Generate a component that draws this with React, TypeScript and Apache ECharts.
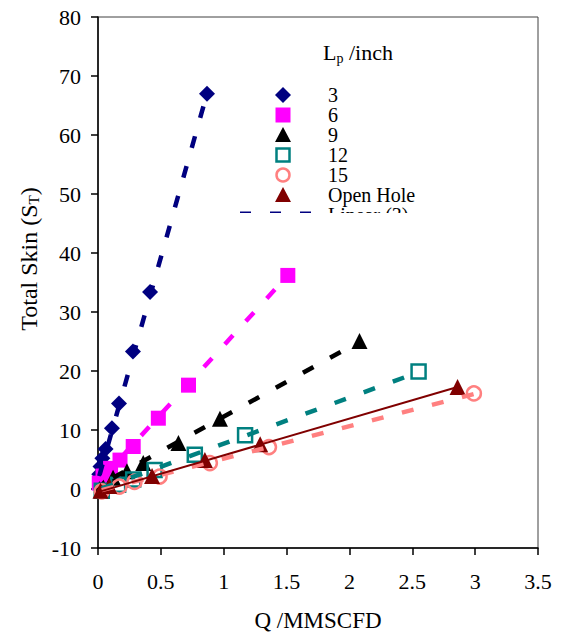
import React, { useEffect, useRef } from "react";
import * as echarts from "echarts";

// ---- data ----
const q3 = [0.01, 0.02, 0.035, 0.06, 0.111, 0.167, 0.278, 0.414, 0.867];
const s3 = [2.5, 3.8, 5.2, 6.8, 10.3, 14.5, 23.3, 33.4, 67.0];

const q6 = [0.01, 0.04, 0.1, 0.175, 0.28, 0.48, 0.72, 1.51];
const s6 = [1.0, 2.2, 3.5, 4.9, 7.2, 12.0, 17.6, 36.2];

const q9 = [0.03, 0.12, 0.23, 0.36, 0.64, 0.97, 2.08];
const s9 = [0.8, 1.9, 3.0, 4.4, 7.8, 11.9, 25.1];

const q12 = [0.03, 0.16, 0.28, 0.45, 0.77, 1.17, 2.55];
const s12 = [-0.3, 0.7, 1.6, 3.2, 5.8, 9.1, 19.9];

const q15 = [0.03, 0.17, 0.29, 0.49, 0.89, 1.36, 2.99];
const s15 = [-0.4, 0.4, 1.2, 2.1, 4.4, 7.1, 16.2];

const qOH = [0.02, 0.09, 0.43, 0.85, 1.29, 2.86];
const sOH = [-0.3, 0.5, 2.2, 4.9, 7.6, 17.3];

// trend line end points
const trend3 = [[0.01, 2.2], [0.867, 67.0]];
const trend6 = [[0.01, 1.3], [1.51, 36.2]];
const trend9 = [[0.12, 1.9], [2.08, 25.0]];
const trend12 = [[0.03, 0.1], [2.55, 19.8]];
const trend15 = [[0.03, -0.2], [2.99, 16.1]];
const trendOH = [[0.02, -0.4], [2.86, 17.3]];

const legendLabels = ["3", "6", "9", "12", "15", "Open Hole", "Linear (3)"];

const FONT = '"Liberation Serif", "Times New Roman", serif';

const zip = (xs: number[], ys: number[]) => xs.map((x, i) => [x, ys[i]]);

export default function App() {
  const ref = useRef<HTMLDivElement>(null);
  useEffect(() => {
    if (!ref.current) return;
    const chart = echarts.init(ref.current, null, { renderer: "svg" });

    const scatter = (name: string, data: number[][], symbol: string, size: number, fill: string, border?: string) => ({
      name,
      type: "scatter",
      data,
      symbol,
      symbolSize: size,
      itemStyle: border
        ? { color: "rgba(255,255,255,0)", borderColor: border, borderWidth: 2.5, opacity: 1 }
        : { color: fill, opacity: 1 },
      z: 2,
    });
    const trend = (data: number[][], color: string, dashed: boolean) => ({
      type: "line",
      data,
      symbol: "none",
      showSymbol: false,
      silent: true,
      lineStyle: dashed
        ? { color, width: 4.5, type: [12, 19] }
        : { color, width: 2, type: "solid" },
      z: 3,
    });

    const rowY = [95, 115, 135, 155, 175, 195, 215];
    const mx = 283;
    const tx = 328;
    const g: any[] = [];
    // y axis title
    g.push({
      type: "text",
      x: 29,
      y: 259,
      rotation: Math.PI / 2,
      style: {
        text: "{a|Total Skin (S}{b|T}{a|)}",
        align: "center",
        verticalAlign: "middle",
        rich: {
          a: { fontFamily: FONT, fontSize: 24, lineHeight: 25, verticalAlign: "top", fill: "#000" },
          b: { fontFamily: FONT, fontSize: 15, lineHeight: 15, padding: [12, 0, 0, 0], verticalAlign: "bottom", fill: "#000" },
        },
      },
    });
    // legend title
    g.push({
      type: "text",
      x: 323,
      y: 53,
      style: {
        text: "{a|L}{b|p}{a| /inch}",
        verticalAlign: "middle",
        rich: {
          a: { fontFamily: FONT, fontSize: 22, lineHeight: 24, verticalAlign: "top", fill: "#000" },
          b: { fontFamily: FONT, fontSize: 14, lineHeight: 14, padding: [12, 0, 0, 0], verticalAlign: "bottom", fill: "#000" },
        },
      },
    });
    // markers
    let y = rowY[0];
    g.push({ type: "polygon", shape: { points: [[mx, y - 8], [mx + 8, y], [mx, y + 8], [mx - 8, y]] }, style: { fill: "#000080" } });
    y = rowY[1];
    g.push({ type: "rect", shape: { x: mx - 7.5, y: y - 7.5, width: 15, height: 15 }, style: { fill: "#FF00FF" } });
    y = rowY[2];
    g.push({ type: "polygon", shape: { points: [[mx, y - 8], [mx + 8, y + 7], [mx - 8, y + 7]] }, style: { fill: "#000000" } });
    y = rowY[3];
    g.push({ type: "rect", shape: { x: mx - 6.5, y: y - 6.5, width: 13, height: 13 }, style: { fill: "none", stroke: "#008080", lineWidth: 2.5 } });
    y = rowY[4];
    g.push({ type: "circle", shape: { cx: mx, cy: y, r: 6.5 }, style: { fill: "none", stroke: "#FF8080", lineWidth: 2.5 } });
    y = rowY[5];
    g.push({ type: "polygon", shape: { points: [[mx, y - 8], [mx + 8, y + 7], [mx - 8, y + 7]] }, style: { fill: "#800000" } });
    y = rowY[6];
    g.push({ type: "line", shape: { x1: 240, y1: 213.5, x2: 312, y2: 213.5 }, style: { stroke: "#000080", lineWidth: 4, lineDash: [11, 19] } });
    legendLabels.forEach((t, i) => {
      g.push({
        type: "text",
        x: tx,
        y: rowY[i],
        style: { text: t, fontFamily: FONT, fontSize: 20, lineHeight: 19, fill: "#000", verticalAlign: "middle", align: "left" },
      });
    });
    // clipping of the legend's last row
    g.push({ type: "rect", shape: { x: 232, y: 213, width: 220, height: 28 }, style: { fill: "#fff" }, z: 100 });

    chart.setOption({
      animation: false,
      textStyle: { fontFamily: FONT, color: "#000" },
      grid: { left: 98, top: 17, right: 26, bottom: 87, show: true, borderColor: "#404040", borderWidth: 1 },
      xAxis: {
        type: "value",
        min: 0,
        max: 3.5,
        interval: 0.5,
        name: "Q /MMSCFD",
        nameLocation: "middle",
        nameGap: 61,
        nameTextStyle: { fontSize: 23, color: "#000", fontFamily: FONT },
        axisLine: { show: true, onZero: false, lineStyle: { color: "#000", width: 1.5 } },
        axisTick: { show: true, length: 7, lineStyle: { color: "#000", width: 1.5 } },
        axisLabel: { fontSize: 22, color: "#000", margin: 22, fontFamily: FONT },
        splitLine: { show: false },
      },
      yAxis: {
        type: "value",
        min: -10,
        max: 80,
        interval: 10,
        axisLine: { show: true, onZero: false, lineStyle: { color: "#000", width: 1.5 } },
        axisTick: { show: true, length: 7, lineStyle: { color: "#000", width: 1.5 } },
        axisLabel: { fontSize: 22, color: "#000", margin: 17, fontFamily: FONT },
        splitLine: { show: false },
      },
      graphic: g,
      series: [
        scatter("3", zip(q3, s3), "diamond", 16, "#000080"),
        scatter("6", zip(q6, s6), "rect", 15, "#FF00FF"),
        scatter("9", zip(q9, s9), "triangle", 16, "#000000"),
        scatter("12", zip(q12, s12), "rect", 14, "", "#008080"),
        scatter("15", zip(q15, s15), "circle", 14, "", "#FF8080"),
        scatter("Open Hole", zip(qOH, sOH), "triangle", 16, "#800000"),
        trend(trend3, "#000080", true),
        trend(trend6, "#FF00FF", true),
        trend(trend9, "#000000", true),
        trend(trend12, "#008080", true),
        trend(trend15, "#FF8080", true),
        trend(trendOH, "#800000", false),
      ],
    });
    return () => chart.dispose();
  }, []);
  return <div ref={ref} style={{ position: "absolute", left: 0, top: 0, width: 564, height: 637 }} />;
}
